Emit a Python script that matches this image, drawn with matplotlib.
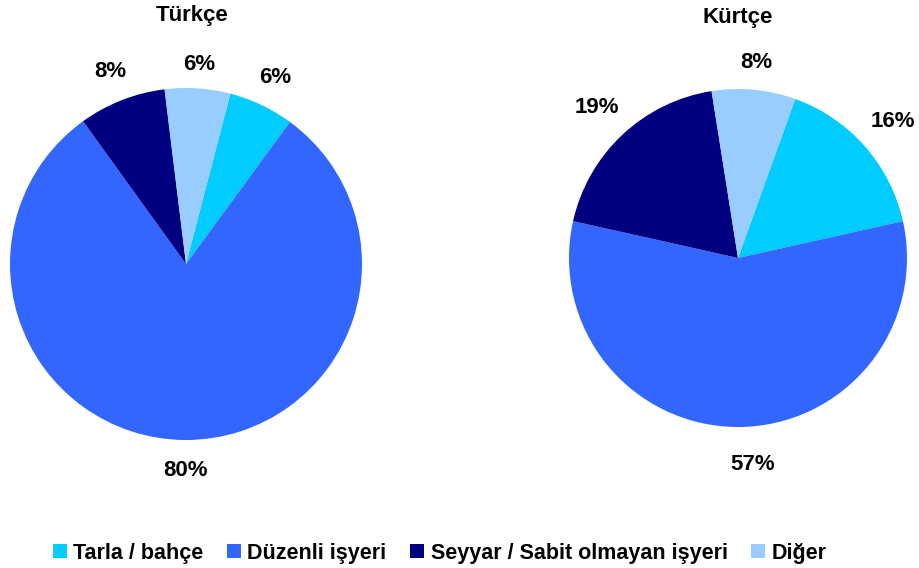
import matplotlib
matplotlib.use("Agg")
import numpy as np
import matplotlib.pyplot as plt
from matplotlib.patches import Patch

plt.rcParams['font.family'] = ['Liberation Sans', 'DejaVu Sans']
plt.rcParams['font.weight'] = 'bold'

categories = ['Tarla / bahçe', 'Düzenli işyeri', 'Seyyar / Sabit olmayan işyeri', 'Diğer']
colors = ['#00CCFF', '#3366FF', '#000080', '#99CCFF']
turkce = [6, 80, 8, 6]
kurtce = [16, 57, 19, 8]
titles = ['Türkçe', 'Kürtçe']

W, H = 920, 568
fig = plt.figure(figsize=(W / 100, H / 100), dpi=100)


def pie_axes(cx, cy, r):
    # square axes in pixel units, r = pie radius
    return fig.add_axes([(cx - r) / W, (H - cy - r) / H, 2 * r / W, 2 * r / H])


def draw_pie(ax, values, start, r_px, title, title_xy, label_px, label_shift):
    wedges, texts, autotexts = ax.pie(
        values, colors=colors, startangle=start, counterclock=False,
        autopct='%d%%', radius=1, wedgeprops=dict(linewidth=0),
        textprops=dict(fontsize=16, fontweight='bold', color='black'))
    # push percentage labels out of the pie, distance given in pixels
    for w, t, d, s in zip(wedges, autotexts, label_px, label_shift):
        ang = np.deg2rad((w.theta1 + w.theta2) / 2 + s)
        t.set_position((d / r_px * np.cos(ang), d / r_px * np.sin(ang)))
    ax.set_xlim(-1, 1)
    ax.set_ylim(-1, 1)
    ax.set_aspect('equal')
    ax.axis('off')
    fig.text(title_xy[0] / W, 1 - title_xy[1] / H, title, ha='center', va='center',
             fontsize=16, fontweight='bold')


ax1 = pie_axes(186, 264, 176)
draw_pie(ax1, turkce, 75.4, 176, titles[0], (192, 16), [207, 207, 207, 200], [0, 0, 0, 0])

ax2 = pie_axes(738, 258, 169)
draw_pie(ax2, kurtce, 70.2, 169, titles[1], (738, 18), [206, 207, 206, 196], [0, 4, 0, 0])

handles = [Patch(facecolor=c, edgecolor='none') for c in colors]
fig.legend(handles, categories, loc='center', bbox_to_anchor=(0.478, 1 - 553 / H),
           ncol=4, frameon=False, handlelength=0.65, handleheight=0.65,
           handletextpad=0.3, columnspacing=1.1, prop=dict(weight='bold', size=15.5))

fig.savefig('out.png', dpi=100)
